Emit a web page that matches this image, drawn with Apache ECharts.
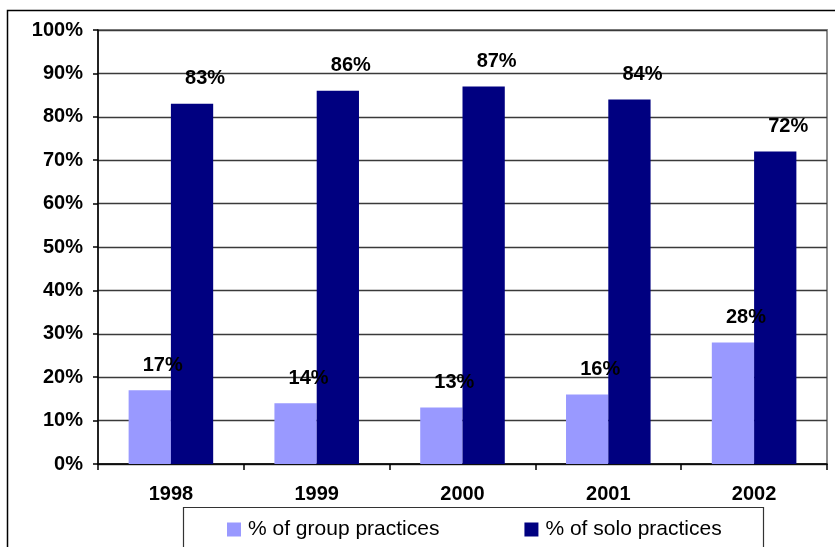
<!DOCTYPE html>
<html>
<head>
<meta charset="utf-8">
<script src="https://cdn.jsdelivr.net/npm/echarts@6/dist/echarts.min.js"></script>
<style>
  html, body { margin: 0; padding: 0; background: #fff; }
  #chart { width: 835px; height: 547px; }
</style>
</head>
<body>
<div id="chart"></div>
<script>
// Share of medical practices by type, per year
const years = ['1998', '1999', '2000', '2001', '2002'];
const groupPct = [17, 14, 13, 16, 28];
const soloPct = [83, 86, 87, 84, 72];
const seriesNames = ['% of group practices', '% of solo practices'];

const FONT = 'Arial, "Liberation Sans", sans-serif';

const valueLabel = {
  show: true,
  position: 'top',
  distance: 5,
  offset: [13, -10],
  formatter: p => p.value + '%',
  color: '#000',
  fontFamily: FONT,
  fontWeight: 'bold',
  fontSize: 20
};

const chart = echarts.init(document.getElementById('chart'), null, { renderer: 'canvas' });

chart.setOption({
  animation: false,
  backgroundColor: '#fff',
  grid: {
    left: 98, top: 30, right: 8, bottom: 83,
    show: true, borderColor: '#8c8c8c', borderWidth: 2, backgroundColor: 'transparent'
  },
  xAxis: {
    type: 'category',
    data: years,
    axisLine: { lineStyle: { color: '#000', width: 1.5 } },
    axisTick: { show: true, length: 6, lineStyle: { color: '#000', width: 1.5 } },
    axisLabel: { color: '#000', fontFamily: FONT, fontWeight: 'bold', fontSize: 20, margin: 20 }
  },
  yAxis: {
    type: 'value',
    min: 0, max: 100, interval: 10,
    axisLine: { show: true, lineStyle: { color: '#000', width: 1.5 } },
    axisTick: { show: true, length: 5, lineStyle: { color: '#000', width: 1.5 } },
    axisLabel: { color: '#000', fontFamily: FONT, fontWeight: 'bold', fontSize: 20, margin: 15, formatter: '{value}%' },
    splitLine: { show: true, lineStyle: { color: '#3a3a3a', width: 1.3 } }
  },
  legend: {
    left: 222, top: 514,
    itemWidth: 14, itemHeight: 14, itemGap: 85,
    icon: 'rect',
    textStyle: { color: '#000', fontFamily: FONT, fontSize: 21, padding: [0, 0, 0, 2] },
    data: seriesNames
  },
  series: [
    {
      name: seriesNames[0], type: 'bar', data: groupPct,
      itemStyle: { color: '#9999ff' },
      barGap: '0%', barCategoryGap: '42%',
      label: valueLabel
    },
    {
      name: seriesNames[1], type: 'bar', data: soloPct,
      itemStyle: { color: '#000080' },
      barGap: '0%', barCategoryGap: '42%',
      label: valueLabel
    }
  ],
  graphic: [
    // outer chart frame
    { type: 'rect', silent: true, z: 100, shape: { x: 7.5, y: 10.5, width: 900, height: 600 },
      style: { fill: 'none', stroke: '#000', lineWidth: 1.5 } },
    // legend frame
    { type: 'rect', silent: true, z: 100, shape: { x: 183.5, y: 507.5, width: 580, height: 100 },
      style: { fill: 'none', stroke: '#333', lineWidth: 1.2 } }
  ]
});
</script>
</body>
</html>
